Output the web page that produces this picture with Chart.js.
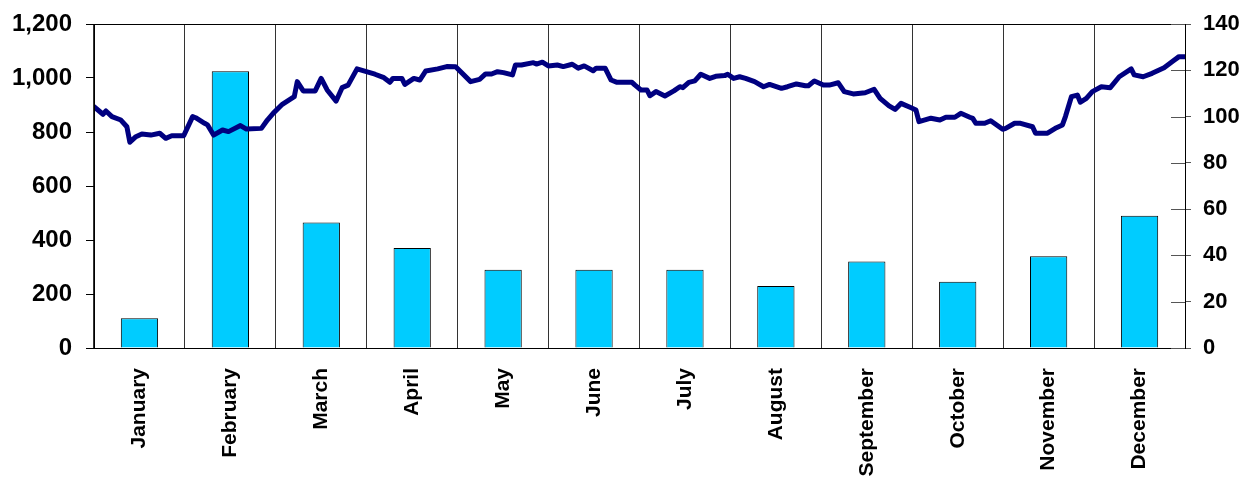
<!DOCTYPE html>
<html>
<head>
<meta charset="utf-8">
<script src="https://cdn.jsdelivr.net/npm/chart.js@4"></script>
<style>
    body { margin: 0; background: #fff; }
</style>
</head>
<body>
<canvas id="chart" width="1247" height="483"></canvas>
<script>
// monthly bars (left axis)
const months = ['January', 'February', 'March', 'April', 'May', 'June', 'July', 'August', 'September', 'October', 'November', 'December'];
const monthValues = [110, 1025, 465, 370, 290, 290, 290, 230, 320, 245, 340, 490];

// daily line (right axis): day of year and value
const lineDays = [0, 3, 4, 6, 9, 11, 12, 14, 16, 19, 22, 24, 26, 30, 33, 34, 37, 38, 40, 43, 45, 49, 51, 56, 58, 60,
    63, 67, 68, 70, 74, 76, 78, 81, 83, 85, 88, 92, 94, 97, 99, 100, 103, 104, 107, 109, 111, 115, 118, 121,
    126, 129, 131, 133, 135, 137, 140, 141, 143, 147, 148, 150, 152, 155, 157, 160, 162, 164, 167, 168, 171, 173, 175, 180, 181, 183,
    185, 186, 188, 191, 194, 196, 197, 199, 201, 203, 206, 208, 211, 212, 214, 216, 218, 221, 224, 226, 230, 232, 235, 238, 239, 241, 244,
    246, 249, 251, 254, 258, 261, 263, 266, 268, 270, 273, 275, 276, 280, 283, 285, 288, 290, 293, 294, 295, 298, 300, 304, 305,
    308, 310, 314, 315, 319, 322, 324, 325, 327, 329, 330, 332, 334, 337, 340, 343, 347, 348, 351, 354, 358, 361, 363, 365];
const lineValues = [104.3, 101.0, 102.4, 100.0, 98.5, 95.6, 88.9, 91.3, 92.5, 92.0, 92.8, 90.6, 91.7, 91.7, 100.0, 99.5, 97.1, 96.4, 92.0, 94.2, 93.5, 96.1, 94.6, 94.9, 98.5, 101.5,
    105.3, 108.6, 115.1, 111.1, 111.1, 116.5, 111.5, 106.7, 112.5, 113.6, 120.6, 119.1, 118.3, 116.8, 114.8, 116.5, 116.5, 113.9, 116.5, 115.8, 119.7, 120.6, 121.6, 121.5,
    115.1, 116.1, 118.4, 118.4, 119.4, 119.0, 118.0, 122.3, 122.3, 123.3, 122.7, 123.5, 121.9, 122.3, 121.6, 122.6, 120.9, 121.9, 119.8, 120.9, 120.9, 115.8, 114.8, 114.8, 113.6, 111.5,
    111.5, 109.0, 110.8, 108.9, 111.1, 112.9, 112.5, 114.8, 115.4, 118.3, 116.5, 117.4, 117.7, 118.3, 116.5, 117.2, 116.5, 115.1, 112.9, 113.9, 112.2, 112.9, 114.1, 113.3, 113.3, 115.4, 113.6,
    113.6, 114.6, 110.8, 109.8, 110.3, 111.8, 107.9, 104.6, 103.1, 105.7, 104.0, 102.8, 97.8, 99.3, 98.5, 99.7, 99.7, 101.4, 99.7, 99.2, 97.1, 97.1, 98.2, 94.5, 94.9,
    97.1, 97.1, 95.6, 92.8, 92.8, 95.2, 96.4, 100.0, 108.6, 109.3, 106.2, 107.9, 110.8, 112.9, 112.5, 117.2, 120.6, 118.0, 117.2, 118.7, 121.1, 124.0, 125.9, 125.9];

const leftTicks = [0, 200, 400, 600, 800, 1000, 1200];
const rightTicks = [0, 20, 40, 60, 80, 100, 120, 140];

const FONT = "'Liberation Sans', Arial, sans-serif";

// frame round the plot and inner half of right-axis ticks
const framePlugin = {
    id: 'frame',
    afterDraw(chart) {
        const { ctx, chartArea: a } = chart;
        const y1 = chart.scales.y1;
        ctx.save();
        ctx.strokeStyle = '#000';
        ctx.lineWidth = 1;
        ctx.strokeRect(Math.round(a.left) + 0.5, Math.round(a.top) + 0.5, Math.round(a.right - a.left), Math.round(a.bottom - a.top));
        ctx.strokeStyle = '#555';
        rightTicks.forEach(v => {
            const py = Math.round(y1.getPixelForValue(v)) + 0.5;
            ctx.beginPath();
            ctx.moveTo(a.right - 14, py);
            ctx.lineTo(a.right, py);
            ctx.stroke();
        });
        ctx.restore();
    }
};

const fitSide = w => s => { s.width = w; s.paddingTop = 0; s.paddingBottom = 0; };

const ctx = document.getElementById('chart');
const chart = new Chart(ctx, {
    type: 'bar',
    data: {
        labels: months,
        datasets: [
            {
                type: 'line',
                data: lineDays.map((d, i) => ({ x: d, y: lineValues[i] })),
                xAxisID: 'xl',
                yAxisID: 'y1',
                borderColor: '#000080',
                borderWidth: 5,
                borderJoinStyle: 'round',
                borderCapStyle: 'round',
                pointRadius: 0,
                tension: 0,
                order: 0
            },
            {
                data: monthValues,
                xAxisID: 'x',
                yAxisID: 'y',
                backgroundColor: '#00CCFF',
                borderColor: '#000',
                borderWidth: 1,
                barPercentage: 0.41,
                categoryPercentage: 1,
                grouped: false,
                order: 1
            }
        ]
    },
    options: {
        responsive: false,
        animation: false,
        layout: { padding: { top: 24, left: 0, right: 0, bottom: 0 } },
        plugins: {
            legend: { display: false },
            tooltip: { enabled: false }
        },
        scales: {
            x: {
                type: 'category',
                offset: true,
                grid: { offset: true, color: '#333', drawTicks: false },
                border: { color: '#000' },
                ticks: {
                    minRotation: 90,
                    maxRotation: 90,
                    padding: 20,
                    color: '#000',
                    font: { family: FONT, size: 21, weight: 'bold' }
                },
                afterFit: s => { s.height = 135; s.paddingLeft = 0; s.paddingRight = 0; }
            },
            xl: {
                type: 'linear',
                display: false,
                offset: false,
                grid: { offset: false },
                min: 0,
                max: 365
            },
            y: {
                position: 'left',
                min: 0,
                max: 1200,
                afterBuildTicks: s => { s.ticks = leftTicks.map(v => ({ value: v })); },
                grid: { drawOnChartArea: false, tickLength: 8, color: '#000' },
                border: { color: '#000' },
                ticks: {
                    padding: 14,
                    color: '#000',
                    font: { family: FONT, size: 24, weight: 'bold' },
                    callback: v => v.toLocaleString('en-US')
                },
                afterFit: fitSide(94)
            },
            y1: {
                position: 'right',
                min: 0,
                max: 140,
                afterBuildTicks: s => { s.ticks = rightTicks.map(v => ({ value: v })); },
                grid: { drawOnChartArea: false, tickLength: 6, color: '#555' },
                border: { color: '#000' },
                ticks: {
                    padding: 12,
                    color: '#000',
                    font: { family: FONT, size: 22, weight: 'bold' }
                },
                afterFit: fitSide(62)
            }
        }
    },
    plugins: [framePlugin]
});
</script>
</body>
</html>
